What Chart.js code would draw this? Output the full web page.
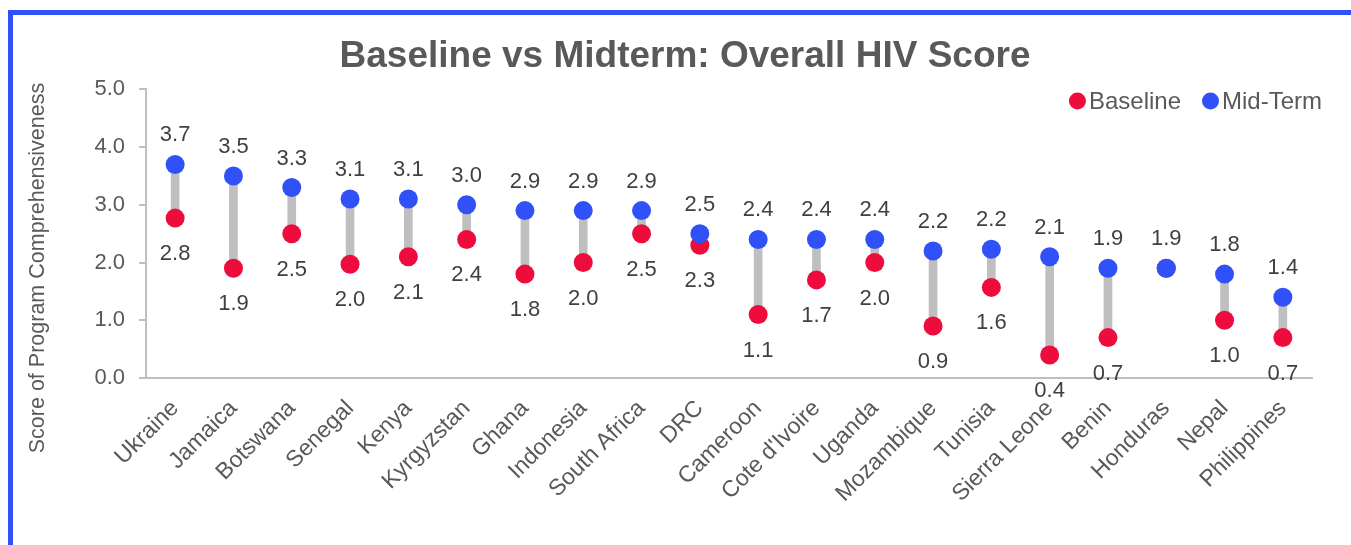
<!DOCTYPE html>
<html lang="en">
<head>
  <meta charset="UTF-8">
  <title>Baseline vs Midterm: Overall HIV Score</title>
  <script src="https://cdn.jsdelivr.net/npm/chart.js"></script>
  <style>
    body { margin: 0; width: 1351px; height: 545px; overflow: hidden; background: #fff; position: relative; }
    .frame { position: absolute; left: 8px; top: 10px; width: 2000px; height: 2000px;
             border-left: 5px solid #3050f8; border-top: 5px solid #3050f8; }
    #chart { position: absolute; left: 0; top: 0; }
  </style>
</head>
<body>
  <div class="frame"></div>
  <canvas id="chart" width="1351" height="545"></canvas>

  <script>
    // data
    const countries = ['Ukraine', 'Jamaica', 'Botswana', 'Senegal', 'Kenya', 'Kyrgyzstan', 'Ghana',
      'Indonesia', 'South Africa', 'DRC', 'Cameroon', "Cote d'Ivoire", 'Uganda', 'Mozambique',
      'Tunisia', 'Sierra Leone', 'Benin', 'Honduras', 'Nepal', 'Philippines'];
    const baseline = [2.77, 1.9, 2.5, 1.97, 2.1, 2.4, 1.8, 2.0, 2.5, 2.3, 1.1, 1.7, 2.0, 0.9, 1.57, 0.4, 0.7, 1.9, 1.0, 0.7];
    const midterm  = [3.7, 3.5, 3.3, 3.1, 3.1, 3.0, 2.9, 2.9, 2.9, 2.5, 2.4, 2.4, 2.4, 2.2, 2.23, 2.1, 1.9, 1.9, 1.8, 1.4];
    const yTicks = [0, 1, 2, 3, 4, 5];

    const RED = '#ee0c3c';
    const BLUE = '#3050f8';
    const GREY = '#595959';
    const FONT = 'Arial, "Liberation Sans", sans-serif';

    Chart.defaults.font.family = FONT;

    // value labels, legend and y title drawn the Excel way
    const extras = {
      id: 'extras',
      afterDatasetsDraw(chart) {
        const ctx = chart.ctx;
        ctx.save();
        ctx.font = '22px ' + FONT;
        ctx.fillStyle = '#404040';
        ctx.textAlign = 'center';
        ctx.textBaseline = 'alphabetic';
        chart.data.datasets.forEach((ds, di) => {
          if (!ds.labelPos) return;
          chart.getDatasetMeta(di).data.forEach((pt, i) => {
            if (ds.labelPos === 'below' && baseline[i] === midterm[i]) return;
            const y = ds.labelPos === 'above' ? pt.y - 23 : pt.y + 42;
            ctx.fillText(ds.data[i].toFixed(1), pt.x, y);
          });
        });
        ctx.restore();
      },
      afterDraw(chart) {
        const ctx = chart.ctx;
        ctx.save();
        // y axis title
        ctx.font = '21.5px ' + FONT;
        ctx.fillStyle = GREY;
        ctx.textAlign = 'center';
        ctx.textBaseline = 'middle';
        ctx.translate(38, 268);
        ctx.rotate(-Math.PI / 2);
        ctx.fillText('Score of Program Comprehensiveness', 0, 0);
        ctx.restore();

        // legend, top right
        ctx.save();
        ctx.font = '24px ' + FONT;
        ctx.textBaseline = 'middle';
        ctx.textAlign = 'left';
        const items = chart.data.datasets.filter(d => d.labelPos);
        const r = 8.5, gap = 3, space = 21;
        let total = 0;
        items.forEach((d, k) => { total += 2 * r + gap + ctx.measureText(d.label).width + (k ? space : 0); });
        let x = 1322 - total;
        const y = 101;
        items.forEach(d => {
          ctx.fillStyle = d.pointBackgroundColor;
          ctx.beginPath();
          ctx.arc(x + r, y, r, 0, Math.PI * 2);
          ctx.fill();
          x += 2 * r + gap;
          ctx.fillStyle = GREY;
          ctx.fillText(d.label, x, y + 1);
          x += ctx.measureText(d.label).width + space;
        });
        ctx.restore();
      }
    };

    new Chart(document.getElementById('chart'), {
      data: {
        labels: countries,
        datasets: [
          {
            type: 'bar',
            label: 'range',
            data: countries.map((c, i) => [baseline[i], midterm[i]]),
            backgroundColor: '#bfbfbf',
            barThickness: 8,
            order: 3
          },
          {
            type: 'line',
            label: 'Baseline',
            data: baseline,
            showLine: false,
            pointRadius: 9.5,
            pointHoverRadius: 9.5,
            pointBorderWidth: 0,
            pointBackgroundColor: RED,
            labelPos: 'below',
            order: 2
          },
          {
            type: 'line',
            label: 'Mid-Term',
            data: midterm,
            showLine: false,
            pointRadius: 9.5,
            pointHoverRadius: 9.5,
            pointBorderWidth: 0,
            pointBackgroundColor: BLUE,
            labelPos: 'above',
            order: 1
          }
        ]
      },
      options: {
        responsive: false,
        animation: false,
        layout: { padding: { left: 58, right: 39, top: 0, bottom: 0 } },
        plugins: {
          legend: { display: false },
          tooltip: { enabled: false },
          title: {
            display: true,
            text: 'Baseline vs Midterm: Overall HIV Score',
            color: GREY,
            font: { size: 37, weight: 'bold' },
            padding: { top: 35, bottom: 10 }
          }
        },
        scales: {
          x: {
            offset: true,
            grid: { display: false },
            border: { display: true, color: '#bfbfbf', width: 2 },
            ticks: { color: GREY, font: { size: 23 }, maxRotation: 45, minRotation: 45, padding: 9, autoSkip: false },
            afterFit(scale) { scale.height = 167; }
          },
          y: {
            min: 0,
            max: 5,
            afterBuildTicks(scale) { scale.ticks = yTicks.map(v => ({ value: v })); },
            grid: { drawOnChartArea: false, color: '#bfbfbf', tickLength: 7, lineWidth: 2 },
            border: { display: true, color: '#bfbfbf', width: 2 },
            ticks: { color: GREY, font: { size: 22 }, padding: 14, callback: v => v.toFixed(1) },
            afterFit(scale) { scale.width = 88; }
          }
        }
      },
      plugins: [extras]
    });
  </script>
</body>
</html>
